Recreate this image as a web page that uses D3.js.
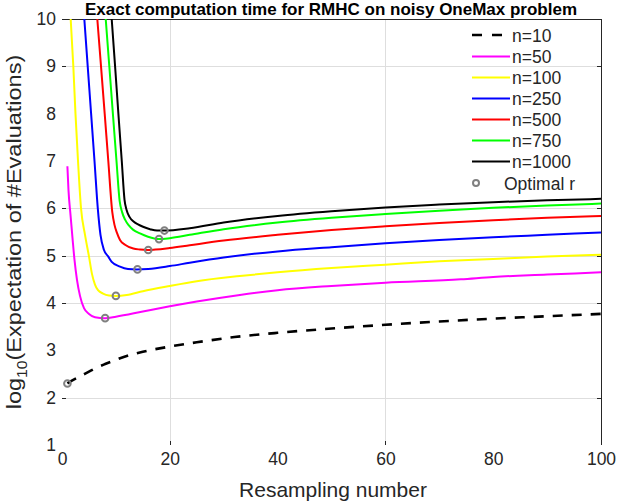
<!DOCTYPE html>
<html>
<head>
<meta charset="utf-8">
<script src="https://cdn.jsdelivr.net/npm/d3@7"></script>
<style>
  html, body { margin: 0; padding: 0; background: #fff; }
  svg { display: block; font-family: "Liberation Sans", Arial, Helvetica, sans-serif; }
</style>
</head>
<body>
<svg id="chart" width="618" height="504"></svg>
<script>
// ---- data ----
const xTicks = [0, 20, 40, 60, 80, 100];
const yTicks = [1, 2, 3, 4, 5, 6, 7, 8, 9, 10];
const xGrid = [20, 60];
const yGrid = [2, 4, 5, 6, 9];

const seriesNames = ["n=10", "n=50", "n=100", "n=250", "n=500", "n=750", "n=1000"];
const seriesColors = ["#000000", "#ff00ff", "#ffff00", "#0000ff", "#ff0000", "#00ff00", "#000000"];

const rN10 = [1, 2, 3, 4, 5, 6, 8, 10, 12, 15, 20, 25, 32, 40, 50, 60, 70, 80, 90, 100];
const vN10 = [2.30, 2.37, 2.43, 2.49, 2.55, 2.61, 2.71, 2.80, 2.88, 2.97, 3.08, 3.17, 3.28, 3.37, 3.46, 3.54, 3.61, 3.67, 3.72, 3.77];

const rN50 = [1.0, 1.20, 1.58, 1.95, 2.32, 2.78, 3.34, 4.08, 5.01, 6.12, 7.98, 10, 15, 20, 25, 33, 40, 50, 60, 74, 80, 90, 100];
const vN50 = [6.89, 6.39, 5.86, 5.37, 4.91, 4.49, 4.15, 3.89, 3.77, 3.70, 3.68, 3.71, 3.82, 3.93, 4.03, 4.17, 4.27, 4.36, 4.43, 4.50, 4.55, 4.60, 4.65];

const rN100 = [1.61, 2.10, 2.50, 2.97, 3.53, 4.27, 5.01, 5.57, 6.12, 6.68, 7.61, 8.72, 10.02, 12, 15, 20, 25, 33, 40, 50, 60, 70, 80, 90, 100];
const vN100 = [10, 9, 8, 7, 6, 5.44, 4.98, 4.61, 4.39, 4.27, 4.20, 4.16, 4.15, 4.17, 4.25, 4.36, 4.46, 4.57, 4.65, 4.74, 4.81, 4.88, 4.93, 4.98, 5.02];

const rN250 = [4.14, 4.77, 5.40, 6.03, 6.64, 7.14, 7.79, 8.59, 9.22, 10.76, 12.24, 13.86, 16, 20, 23.7, 30, 40, 50, 60, 70, 80, 90, 100];
const vN250 = [10, 9, 8, 7, 6, 5.44, 5.12, 4.98, 4.87, 4.77, 4.72, 4.71, 4.72, 4.78, 4.85, 4.96, 5.09, 5.18, 5.26, 5.33, 5.39, 5.44, 5.49];

const rN500 = [6.55, 7.24, 7.92, 8.59, 9.33, 9.74, 10.20, 10.76, 11.69, 13.23, 14.47, 15.9, 20, 23.7, 30, 40, 50, 60, 70, 80, 90, 100];
const vN500 = [10, 9, 8, 7, 5.92, 5.65, 5.48, 5.33, 5.23, 5.15, 5.13, 5.12, 5.16, 5.22, 5.32, 5.44, 5.54, 5.62, 5.69, 5.75, 5.80, 5.84];

const rN750 = [8.11, 8.78, 9.44, 10.11, 10.70, 11.15, 11.7, 12.40, 13.17, 14.47, 15.96, 18.0, 20, 23.7, 30, 40, 50, 60, 70, 80, 90, 100];
const vN750 = [10, 9, 8, 7, 6.15, 5.92, 5.76, 5.64, 5.55, 5.47, 5.40, 5.35, 5.37, 5.44, 5.56, 5.70, 5.80, 5.88, 5.95, 6.01, 6.06, 6.10];

const rN1000 = [9.22, 9.85, 10.46, 11.09, 11.60, 11.97, 12.52, 13.27, 14.10, 15.03, 16.33, 17.63, 18.92, 23.7, 30, 40, 50, 60, 70, 80, 90, 100];
const vN1000 = [10, 9, 8, 7, 6.18, 5.97, 5.82, 5.72, 5.66, 5.61, 5.56, 5.53, 5.53, 5.58, 5.70, 5.84, 5.94, 6.02, 6.08, 6.13, 6.17, 6.20];

const optR = [1, 8, 10, 14, 16, 18, 19];
const optV = [2.30, 3.68, 4.15, 4.71, 5.12, 5.35, 5.53];

const seriesR = [rN10, rN50, rN100, rN250, rN500, rN750, rN1000];
const seriesV = [vN10, vN50, vN100, vN250, vN500, vN750, vN1000];

// ---- layout ----
const svg = d3.select("#chart");
const L = 62, T = 19, R = 601, B = 445;
const x = d3.scaleLinear().domain([0, 100]).range([L, R]);
const y = d3.scaleLinear().domain([1, 10]).range([B, T]);
const axisColor = "#262626";

svg.append("defs").append("clipPath").attr("id", "plotclip")
  .append("rect").attr("x", L).attr("y", T).attr("width", R - L).attr("height", B - T);

// grid
const grid = svg.append("g").attr("stroke", "#dedede").attr("stroke-width", 1);
grid.selectAll("line.gx").data(xGrid).join("line")
  .attr("x1", d => Math.round(x(d)) + 0.5).attr("x2", d => Math.round(x(d)) + 0.5)
  .attr("y1", T).attr("y2", B);
grid.selectAll("line.gy").data(yGrid).join("line")
  .attr("y1", d => Math.round(y(d)) + 0.5).attr("y2", d => Math.round(y(d)) + 0.5)
  .attr("x1", L).attr("x2", R);

// axes frame: top & right lines
svg.append("line").attr("x1", L).attr("x2", R + 0.5).attr("y1", T + 0.5).attr("y2", T + 0.5)
  .attr("stroke", axisColor).attr("stroke-width", 1);
svg.append("line").attr("x1", R + 0.5).attr("x2", R + 0.5).attr("y1", T).attr("y2", B)
  .attr("stroke", axisColor).attr("stroke-width", 1);

// y axis (left)
const yAxis = d3.axisLeft(y).tickValues(yTicks).tickSize(0).tickPadding(6).tickFormat(d3.format("d"));
const gy = svg.append("g").attr("transform", `translate(${L},0)`).call(yAxis);
gy.select(".domain").remove();
gy.selectAll("text").attr("font-size", 17.5).attr("fill", axisColor)
  .attr("font-family", "Liberation Sans, Arial, sans-serif");

// inward tick marks (only where visible in the reference)
const tickMarks = svg.append("g").attr("stroke", axisColor).attr("stroke-width", 1);
tickMarks.selectAll("line.tl").data(yGrid.concat([10])).join("line")
  .attr("x1", L).attr("x2", L + 4)
  .attr("y1", d => Math.round(y(d)) + 0.5).attr("y2", d => Math.round(y(d)) + 0.5);
tickMarks.selectAll("line.tr").data(yGrid).join("line")
  .attr("x1", R - 4).attr("x2", R)
  .attr("y1", d => Math.round(y(d)) + 0.5).attr("y2", d => Math.round(y(d)) + 0.5);
tickMarks.selectAll("line.tb").data(xGrid).join("line")
  .attr("x1", d => Math.round(x(d)) + 0.5).attr("x2", d => Math.round(x(d)) + 0.5)
  .attr("y1", B - 4).attr("y2", B);

// x axis
const xAxis = d3.axisBottom(x).tickValues(xTicks).tickSize(0).tickPadding(8).tickFormat(d3.format("d"));
const gx = svg.append("g").attr("transform", `translate(0,${B})`).call(xAxis);
gx.select(".domain").remove();
gx.selectAll("text").attr("font-size", 17.5).attr("fill", axisColor)
  .attr("font-family", "Liberation Sans, Arial, sans-serif");

// titles
svg.append("text").attr("x", 331).attr("y", 15).attr("text-anchor", "middle")
  .attr("font-size", 17).attr("font-weight", "bold").attr("fill", "#000")
  .text("Exact computation time for RMHC on noisy OneMax problem");

svg.append("text").attr("x", 333).attr("y", 497).attr("text-anchor", "middle")
  .attr("font-size", 21).attr("fill", axisColor).text("Resampling number");

const yl = svg.append("text")
  .attr("transform", `translate(21,${(T + B) / 2}) rotate(-90) scale(1.12,1)`)
  .attr("text-anchor", "middle").attr("font-size", 21).attr("fill", axisColor);
yl.append("tspan").text("log");
yl.append("tspan").attr("font-size", 14).attr("dy", 6).text("10");
yl.append("tspan").attr("dy", -6).text("(Expectation of #Evaluations)");

// curves
const line = d3.line().x(d => x(d[0])).y(d => y(d[1])).curve(d3.curveMonotoneX);
const plot = svg.append("g").attr("clip-path", "url(#plotclip)");
seriesR.forEach((rs, i) => {
  const pts = rs.map((r, j) => [r, seriesV[i][j]]);
  plot.append("path").datum(pts)
    .attr("fill", "none")
    .attr("stroke", seriesColors[i])
    .attr("stroke-width", i === 0 ? 2.6 : 2)
    .attr("stroke-dasharray", i === 0 ? "10,9" : null)
    .attr("d", line);
});

// optimal markers
svg.append("g").selectAll("circle").data(optR.map((r, j) => [r, optV[j]])).join("circle")
  .attr("cx", d => x(d[0])).attr("cy", d => y(d[1])).attr("r", 3.3)
  .attr("fill", "none").attr("stroke", "#808080").attr("stroke-width", 2);

// legend
const legRowY = [35, 56.5, 77.5, 98.5, 119.5, 140.5, 161.5];
const leg = svg.append("g");
seriesNames.forEach((name, i) => {
  leg.append("line").attr("x1", 472).attr("x2", 510)
    .attr("y1", legRowY[i]).attr("y2", legRowY[i])
    .attr("stroke", seriesColors[i]).attr("stroke-width", i === 0 ? 2.6 : 2)
    .attr("stroke-dasharray", i === 0 ? "10,10" : null);
  leg.append("text").attr("x", 512).attr("y", legRowY[i] + 6.5)
    .attr("font-size", 17.5).attr("fill", axisColor).text(name);
});
leg.append("circle").attr("cx", 476).attr("cy", 183).attr("r", 3)
  .attr("fill", "none").attr("stroke", "#808080").attr("stroke-width", 2);
leg.append("text").attr("x", 504).attr("y", 189.5)
  .attr("font-size", 17.5).attr("fill", axisColor).text("Optimal r");
</script>
</body>
</html>
